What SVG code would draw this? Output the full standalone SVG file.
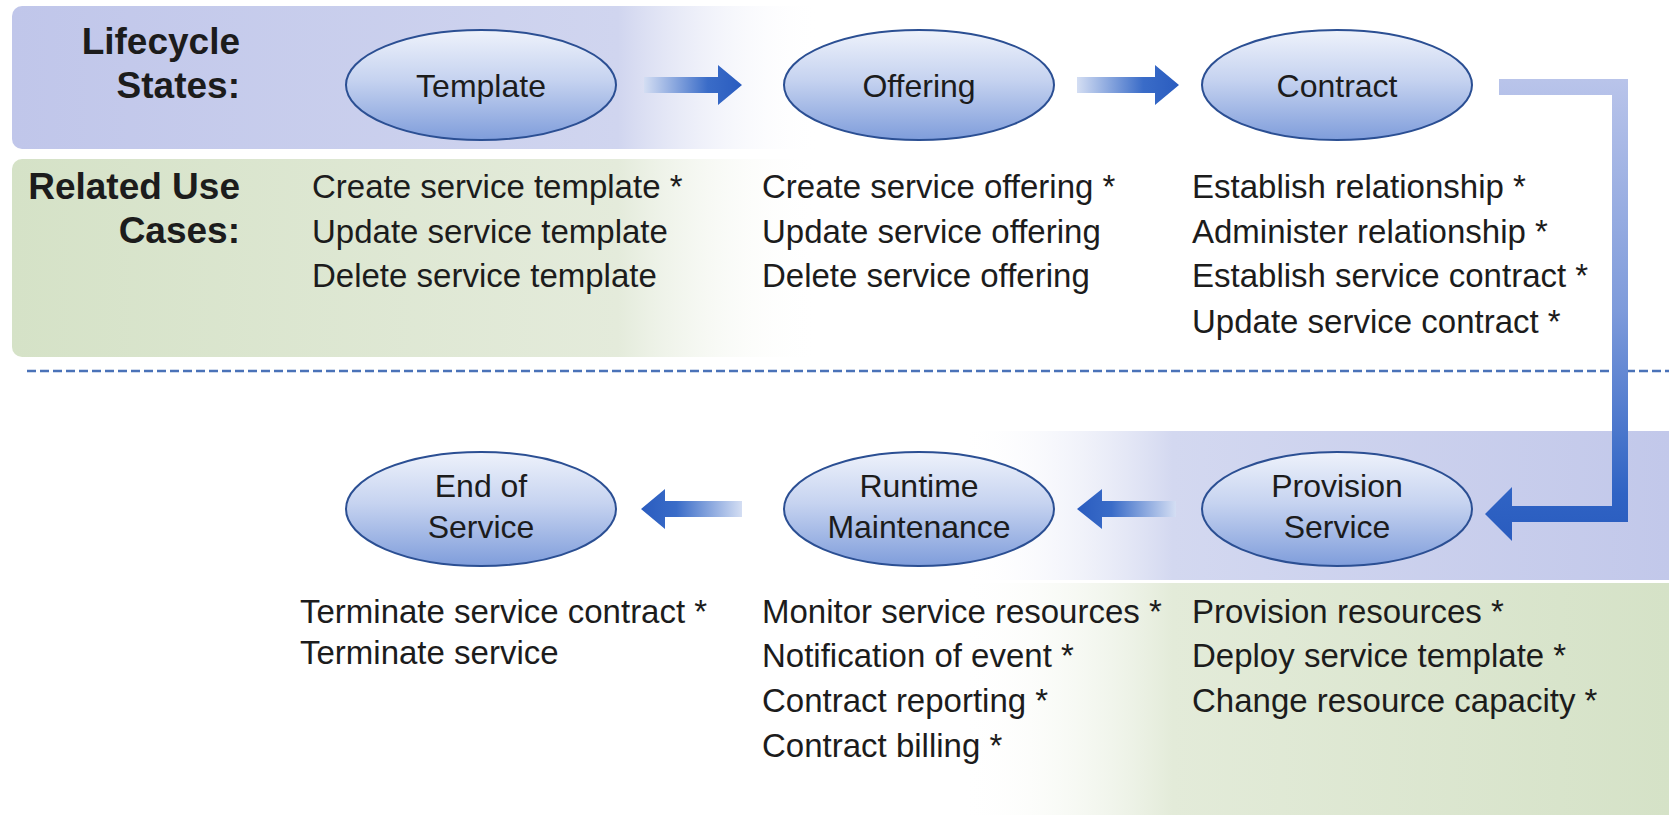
<svg xmlns="http://www.w3.org/2000/svg" width="1669" height="815" viewBox="0 0 1669 815">
<defs>
<style>
.lbl{font-family:"Liberation Sans",Arial,sans-serif;font-size:33px;fill:#1c1c1c}
.hdr{font-family:"Liberation Sans",Arial,sans-serif;font-size:37px;font-weight:bold;fill:#1c1c1c;text-anchor:end}
.node ellipse{fill:url(#eg);stroke:#2b4f93;stroke-width:2}
.node text{font-family:"Liberation Sans",Arial,sans-serif;font-size:32px;fill:#1c1c1c;text-anchor:middle}
</style>
<linearGradient id="eg" x1="0" y1="0" x2="0" y2="1">
<stop offset="0" stop-color="#eef2fb"/>
<stop offset="0.45" stop-color="#c6d3f0"/>
<stop offset="1" stop-color="#7f9ddb"/>
</linearGradient>
<linearGradient id="topband" gradientUnits="userSpaceOnUse" x1="12" y1="0" x2="820" y2="0">
<stop offset="0" stop-color="#c0c6ea"/>
<stop offset="0.75" stop-color="#d0d5ef"/>
<stop offset="1" stop-color="#ffffff" stop-opacity="0"/>
</linearGradient>
<linearGradient id="greenband" gradientUnits="userSpaceOnUse" x1="12" y1="0" x2="820" y2="0">
<stop offset="0" stop-color="#d5e2c7"/>
<stop offset="0.75" stop-color="#e4ebdb"/>
<stop offset="1" stop-color="#ffffff" stop-opacity="0"/>
</linearGradient>
<linearGradient id="brband" gradientUnits="userSpaceOnUse" x1="960" y1="0" x2="1669" y2="0">
<stop offset="0" stop-color="#ffffff" stop-opacity="0"/>
<stop offset="0.3" stop-color="#d3d8f0"/>
<stop offset="1" stop-color="#c2c8ea"/>
</linearGradient>
<linearGradient id="bgband" gradientUnits="userSpaceOnUse" x1="960" y1="0" x2="1669" y2="0">
<stop offset="0" stop-color="#ffffff" stop-opacity="0"/>
<stop offset="0.3" stop-color="#e3ebd9"/>
<stop offset="1" stop-color="#d5e2c7"/>
</linearGradient>
<linearGradient id="arR" gradientUnits="objectBoundingBox" x1="0" y1="0" x2="1" y2="0">
<stop offset="0" stop-color="#d4def3"/>
<stop offset="0.65" stop-color="#3a6cc8"/>
<stop offset="1" stop-color="#2a5cbf"/>
</linearGradient>
<linearGradient id="arL" gradientUnits="objectBoundingBox" x1="1" y1="0" x2="0" y2="0">
<stop offset="0" stop-color="#d4def3"/>
<stop offset="0.65" stop-color="#3a6cc8"/>
<stop offset="1" stop-color="#2a5cbf"/>
</linearGradient>
<linearGradient id="elb" gradientUnits="userSpaceOnUse" x1="0" y1="80" x2="0" y2="540">
<stop offset="0" stop-color="#b9c4ea"/>
<stop offset="0.5" stop-color="#7e9bdb"/>
<stop offset="0.9" stop-color="#2f63c4"/>
<stop offset="1" stop-color="#2a5cbf"/>
</linearGradient>
</defs>
<rect width="1669" height="815" fill="#ffffff"/>
<g id="background">
<rect x="12" y="6" width="1000" height="143" rx="10" fill="url(#topband)"/>
<rect x="12" y="159" width="1000" height="198" rx="10" fill="url(#greenband)"/>
<rect x="960" y="431" width="709" height="149" fill="url(#brband)"/>
<rect x="960" y="583" width="709" height="232" fill="url(#bgband)"/>
<line x1="27" y1="371" x2="1669" y2="371" stroke="#4a72b8" stroke-width="2.5" stroke-dasharray="9 4"/>
</g>
<g id="headers">
<text class="hdr" x="240" y="54">Lifecycle</text>
<text class="hdr" x="240" y="98">States:</text>
<text class="hdr" x="240" y="199">Related Use</text>
<text class="hdr" x="240" y="243">Cases:</text>
</g>
<g id="connectors">
<path d="M644,77 H718 V65 L742,85 L718,105 V93 H644 Z" fill="url(#arR)"/>
<path d="M1077,77 H1155 V65 L1179,85 L1155,105 V93 H1077 Z" fill="url(#arR)"/>
<path d="M1499,79 H1628 V522 H1512 V541 L1485,514 L1512,487 V506 H1612 V95 H1499 Z" fill="url(#elb)"/>
<path d="M1176,501 H1102 V489 L1077,509 L1102,529 V517 H1176 Z" fill="url(#arL)"/>
<path d="M742,501 H665 V489 L641,509 L665,529 V517 H742 Z" fill="url(#arL)"/>
</g>
<g id="node-template" class="node">
<ellipse cx="481" cy="85" rx="135" ry="55"/>
<text x="481" y="97">Template</text>
</g>
<g id="node-offering" class="node">
<ellipse cx="919" cy="85" rx="135" ry="55"/>
<text x="919" y="97">Offering</text>
</g>
<g id="node-contract" class="node">
<ellipse cx="1337" cy="85" rx="135" ry="55"/>
<text x="1337" y="97">Contract</text>
</g>
<g id="node-provision" class="node">
<ellipse cx="1337" cy="509" rx="135" ry="57"/>
<text x="1337" y="497">Provision</text>
<text x="1337" y="538">Service</text>
</g>
<g id="node-runtime" class="node">
<ellipse cx="919" cy="509" rx="135" ry="57"/>
<text x="919" y="497">Runtime</text>
<text x="919" y="538">Maintenance</text>
</g>
<g id="node-end" class="node">
<ellipse cx="481" cy="509" rx="135" ry="57"/>
<text x="481" y="497">End of</text>
<text x="481" y="538">Service</text>
</g>
<g id="usecases">
<text class="lbl" x="312" y="198">Create service template *</text>
<text class="lbl" x="312" y="243">Update service template</text>
<text class="lbl" x="312" y="287">Delete service template</text>
<text class="lbl" x="762" y="198">Create service offering *</text>
<text class="lbl" x="762" y="243">Update service offering</text>
<text class="lbl" x="762" y="287">Delete service offering</text>
<text class="lbl" x="1192" y="198">Establish relationship *</text>
<text class="lbl" x="1192" y="243">Administer relationship *</text>
<text class="lbl" x="1192" y="287">Establish service contract *</text>
<text class="lbl" x="1192" y="333">Update service contract *</text>
<text class="lbl" x="300" y="623">Terminate service contract *</text>
<text class="lbl" x="300" y="664">Terminate service</text>
<text class="lbl" x="762" y="623">Monitor service resources *</text>
<text class="lbl" x="762" y="667">Notification of event *</text>
<text class="lbl" x="762" y="712">Contract reporting *</text>
<text class="lbl" x="762" y="757">Contract billing *</text>
<text class="lbl" x="1192" y="623">Provision resources *</text>
<text class="lbl" x="1192" y="667">Deploy service template *</text>
<text class="lbl" x="1192" y="712">Change resource capacity *</text>
</g>
</svg>
